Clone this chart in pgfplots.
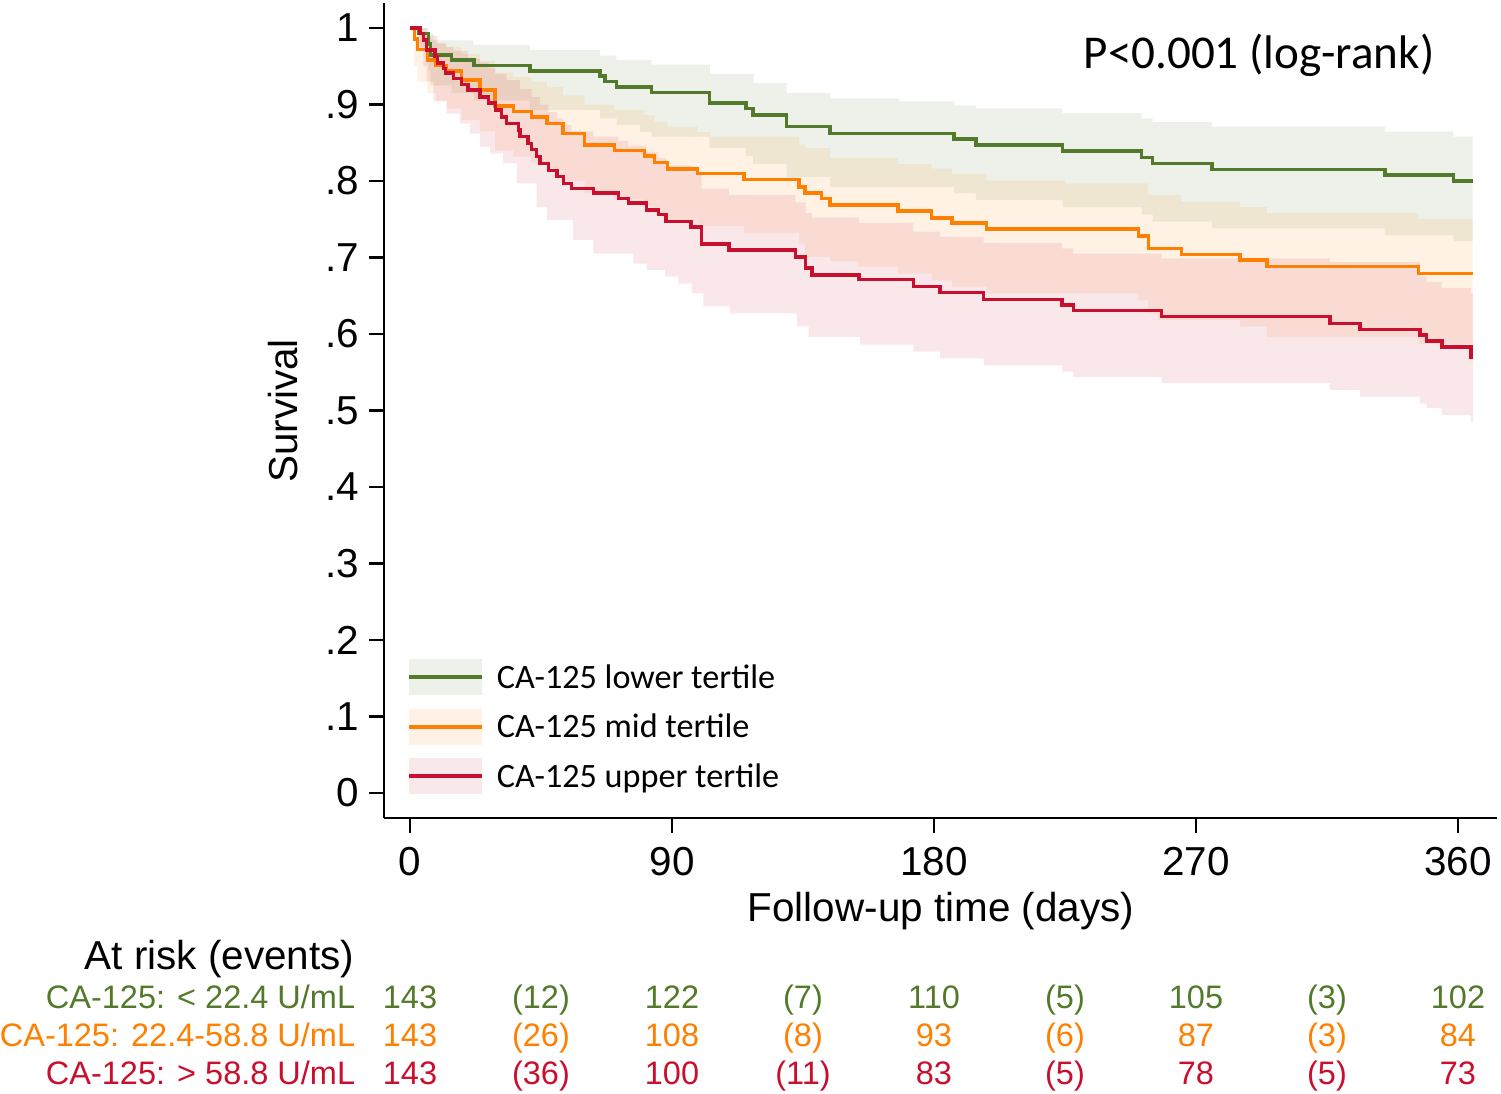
\documentclass[border=0pt]{standalone}
\usepackage{fontspec}
\setmainfont{Liberation Sans}
\newfontfamily\calibri{Carlito}
\usepackage{pgfplots}
\usepackage{pgfplotstable}
\pgfplotsset{compat=1.18}
\usepgfplotslibrary{fillbetween}
\definecolor{cg}{RGB}{83,122,43}
\definecolor{co}{RGB}{255,128,0}
\definecolor{cr}{RGB}{200,16,46}

% ---------- lower tertile (green) ----------
\pgfplotstableread{
t s
0 1.000
3 0.993
6.3 0.979
7 0.965
14.3 0.958
22 0.951
41.2 0.944
65.3 0.937
67 0.930
71 0.923
83 0.916
102.8 0.902
115.4 0.895
117.9 0.886
129.4 0.871
144.3 0.862
186.9 0.855
194.4 0.847
224.2 0.839
251.3 0.831
255.1 0.823
275.4 0.815
334.9 0.808
358.4 0.800
365 0.800
}\greenS
\pgfplotstableread{
t s
0 1.000
6.3 0.993
8 0.984
21.8 0.978
41.2 0.971
65.3 0.964
71 0.958
83 0.952
103 0.940
118 0.928
129.4 0.915
144.3 0.908
168 0.904
186.9 0.899
194.4 0.895
224.2 0.889
251.3 0.882
255.1 0.877
275.4 0.871
334.9 0.8645
358.4 0.858
365 0.858
}\greenU
\pgfplotstableread{
t s
0 1.000
3 0.975
6.3 0.945
7 0.925
14.3 0.915
22 0.905
41.2 0.893
65.3 0.882
71 0.873
79 0.864
83 0.858
102.8 0.843
115.4 0.833
117.9 0.822
129.4 0.805
144.3 0.792
186.9 0.784
194.4 0.775
224.2 0.766
251.3 0.756
255.1 0.747
275.4 0.738
334.9 0.729
358.4 0.721
365 0.721
}\greenL

% ---------- mid tertile (orange) ----------
\pgfplotstableread{
t s
0 1.000
1.5 0.986
2.5 0.972
6 0.958
9 0.951
12.6 0.944
17.7 0.932
24 0.919
29.2 0.898
35.5 0.891
41.8 0.884
47 0.875
52.5 0.862
60 0.847
70.2 0.840
80.5 0.833
84 0.824
88.5 0.816
98.8 0.810
114.8 0.802
133.7 0.7925
135.7 0.784
141.4 0.777
144.3 0.769
167.7 0.761
179.2 0.752
186.1 0.745
198.1 0.737
250.2 0.728
253.6 0.712
265 0.704
285.1 0.697
294.3 0.688
346.4 0.679
365 0.679
}\orangeS
\pgfplotstableread{
t s
0 1.000
2.5 0.993
6 0.985
9 0.980
12.6 0.975
17.7 0.966
24 0.957
29.2 0.942
35.5 0.936
41.8 0.930
47 0.923
52.5 0.912
60 0.900
70.2 0.893
80.5 0.886
84 0.8775
88.5 0.871
98.8 0.864
103 0.858
133.7 0.848
135.7 0.843
144.3 0.830
167.7 0.822
179.2 0.8165
186.1 0.809
198.1 0.801
225 0.797
253.6 0.782
265 0.773
285.1 0.766
294.3 0.758
346.4 0.751
365 0.751
}\orangeU
\pgfplotstableread{
t s
0 1.000
1.5 0.950
2.5 0.930
6 0.915
9 0.905
12.6 0.895
17.7 0.880
24 0.865
29.2 0.840
35.5 0.832
41.8 0.824
47 0.814
52.5 0.800
60 0.784
70.2 0.776
80.5 0.767
84 0.757
88.5 0.748
98.8 0.741
114.8 0.732
133.7 0.718
135.7 0.701
144.3 0.695
154 0.688
167.7 0.679
179.2 0.670
186.1 0.662
198.1 0.653
250.2 0.644
253.6 0.627
257 0.618
285.1 0.610
294.3 0.596
346.4 0.587
365 0.587
}\orangeL

% ---------- upper tertile (red) ----------
\pgfplotstableread{
t s
0 1.000
3.4 0.993
4.6 0.984
5.7 0.971
8.6 0.963
9.5 0.954
11.5 0.947
12.2 0.941
14.9 0.934
17.7 0.926
20 0.919
24 0.910
26.9 0.902
29.3 0.893
31.5 0.884
33.2 0.875
37.2 0.867
37.8 0.858
40.6 0.849
41.8 0.841
43.5 0.832
44.7 0.823
47.5 0.814
50.4 0.806
52.7 0.797
55.5 0.790
63 0.784
71.6 0.777
75 0.771
81.3 0.762
85.3 0.756
88 0.747
96.5 0.740
100.2 0.718
109.6 0.710
132.4 0.701
135.9 0.686
138.1 0.677
154.2 0.671
172.9 0.662
182 0.654
197 0.645
223.9 0.638
227.9 0.631
258.2 0.623
316 0.614
326.3 0.606
346.9 0.599
349.2 0.591
354.4 0.583
364.4 0.570
365.2 0.570
}\redS
\pgfplotstableread{
t s
0 1.000
5.7 0.990
9.5 0.980
12.2 0.975
14.9 0.970
20 0.960
24 0.955
26.9 0.948
29.3 0.940
33.2 0.932
37.8 0.920
41.8 0.910
44.7 0.900
47.5 0.890
50.4 0.882
52.7 0.873
55.5 0.865
63 0.858
71.6 0.852
75 0.846
81.3 0.838
85.3 0.830
88 0.820
96.5 0.812
100.2 0.790
109.6 0.782
132.4 0.772
135.9 0.758
138.1 0.752
154.2 0.745
172.9 0.734
182 0.727
197 0.719
223.9 0.712
227.9 0.705
258.2 0.699
316 0.694
346.9 0.675
349.2 0.668
354.4 0.660
364.4 0.653
365.2 0.653
}\redU
\pgfplotstableread{
t s
0 1.000
3.4 0.970
4.6 0.950
5.7 0.930
8 0.904
12.6 0.888
17.2 0.875
20.6 0.862
24 0.845
27.5 0.836
32 0.823
36.6 0.797
43.5 0.766
47 0.749
56 0.723
63 0.705
76.7 0.692
81.3 0.684
87.6 0.675
92.2 0.666
96.8 0.653
100.8 0.636
110 0.627
132.9 0.610
136.9 0.596
154.6 0.586
172.9 0.577
182 0.568
197 0.559
223.9 0.551
227.9 0.544
258.2 0.536
316 0.527
326.3 0.518
346.9 0.509
349.2 0.503
354.4 0.494
364.4 0.485
365.2 0.485
}\redL

\newcommand\tickfont{\fontsize{9.7bp}{11bp}\selectfont}
\newcommand\rowfont{\fontsize{7.8bp}{9bp}\selectfont}
\newcommand\legfont{\calibri\fontsize{8.2bp}{10bp}\selectfont}

\begin{document}
\begin{tikzpicture}
\begin{axis}[
  at={(92.16bp,-196.32bp)}, anchor=south west,
  scale only axis, width=267.12bp, height=195.6bp,
  xmin=-8.93, xmax=373.4, ymin=-0.0327, ymax=1.0327,
  axis lines=left,
  axis line style={-, line width=0.6bp, black},
  xtick={0,90,180,270,360},
  xticklabels={0,90,180,270,360},
  ytick={0,0.1,0.2,0.3,0.4,0.5,0.6,0.7,0.8,0.9,1},
  yticklabels={0,.1,.2,.3,.4,.5,.6,.7,.8,.9,1},
  tick align=outside,
  major tick length=3.6bp,
  tick style={line width=0.6bp, black},
  /pgf/number format/assume math mode=true,
  ticklabel style={font=\tickfont},
  yticklabel style={xshift=1.2bp},
  xlabel={Follow-up time (days)},
  ylabel={Survival},
  xlabel style={at={(rel axis cs:0.5004,-0.1264)}, anchor=base, font=\tickfont},
  ylabel style={at={(rel axis cs:-0.0777,0.4994)}, anchor=base, font=\tickfont},
  clip=false,
]
% confidence bands
\addplot[draw=none, const plot, name path=gu, forget plot] table[x=t,y=s]{\greenU};
\addplot[draw=none, const plot, name path=gl, forget plot] table[x=t,y=s]{\greenL};
\addplot[fill=cg, fill opacity=0.1, draw=none, forget plot] fill between[of=gu and gl];
\addplot[draw=none, const plot, name path=ou, forget plot] table[x=t,y=s]{\orangeU};
\addplot[draw=none, const plot, name path=ol, forget plot] table[x=t,y=s]{\orangeL};
\addplot[fill=co, fill opacity=0.1, draw=none, forget plot] fill between[of=ou and ol];
\addplot[draw=none, const plot, name path=ru, forget plot] table[x=t,y=s]{\redU};
\addplot[draw=none, const plot, name path=rl, forget plot] table[x=t,y=s]{\redL};
\addplot[fill=cr, fill opacity=0.1, draw=none, forget plot] fill between[of=ru and rl];
% survival curves
\addplot[cg, line width=0.85bp, const plot, no marks] table[x=t,y=s]{\greenS};
\addplot[co, line width=0.85bp, const plot, no marks] table[x=t,y=s]{\orangeS};
\addplot[cr, line width=0.85bp, const plot, no marks] table[x=t,y=s]{\redS};
\end{axis}

\begin{scope}[x=0.24bp,y=0.24bp]
% p-value
\node[anchor=base, font=\calibri\fontsize{11.3bp}{13bp}\selectfont] at (1259,-68) {P<0.001 (log-rank)};

% legend
\fill[cg, opacity=0.1] (409,-659) rectangle (482,-695);
\draw[cg, line width=0.85bp] (409,-677) -- (482,-677);
\node[anchor=base west, inner sep=0pt, font=\legfont] at (496,-688) {CA-125 lower tertile};
\fill[co, opacity=0.1] (409,-709) rectangle (482,-745);
\draw[co, line width=0.85bp] (409,-727) -- (482,-727);
\node[anchor=base west, inner sep=0pt, font=\legfont] at (496,-738) {CA-125 mid tertile};
\fill[cr, opacity=0.1] (409,-758) rectangle (482,-794);
\draw[cr, line width=0.85bp] (409,-776) -- (482,-776);
\node[anchor=base west, inner sep=0pt, font=\legfont] at (496,-787) {CA-125 upper tertile};

% at-risk table
\node[anchor=base east, inner sep=0pt, font=\tickfont] at (355,-969) {At risk (events)};
\node[anchor=base east, inner sep=0pt, font=\rowfont, text=cg] at (356,-1008) {CA-125: < 22.4 U/mL};
\node[anchor=base east, inner sep=0pt, font=\rowfont, text=co] at (356,-1046.5) {CA-125: 22.4-58.8 U/mL};
\node[anchor=base east, inner sep=0pt, font=\rowfont, text=cr] at (356,-1084.5) {CA-125: > 58.8 U/mL};
\foreach \v [count=\i from 0] in {143,(12),122,(7),110,(5),105,(3),102}
  \node[anchor=base, inner sep=0pt, font=\rowfont, text=cg] at (410+131*\i,-1008) {\v};
\foreach \v [count=\i from 0] in {143,(26),108,(8),93,(6),87,(3),84}
  \node[anchor=base, inner sep=0pt, font=\rowfont, text=co] at (410+131*\i,-1046.5) {\v};
\foreach \v [count=\i from 0] in {143,(36),100,(11),83,(5),78,(5),73}
  \node[anchor=base, inner sep=0pt, font=\rowfont, text=cr] at (410+131*\i,-1084.5) {\v};

\pgfresetboundingbox
\path (0,0) rectangle (1501,-1094);
\end{scope}
\end{tikzpicture}
\end{document}
